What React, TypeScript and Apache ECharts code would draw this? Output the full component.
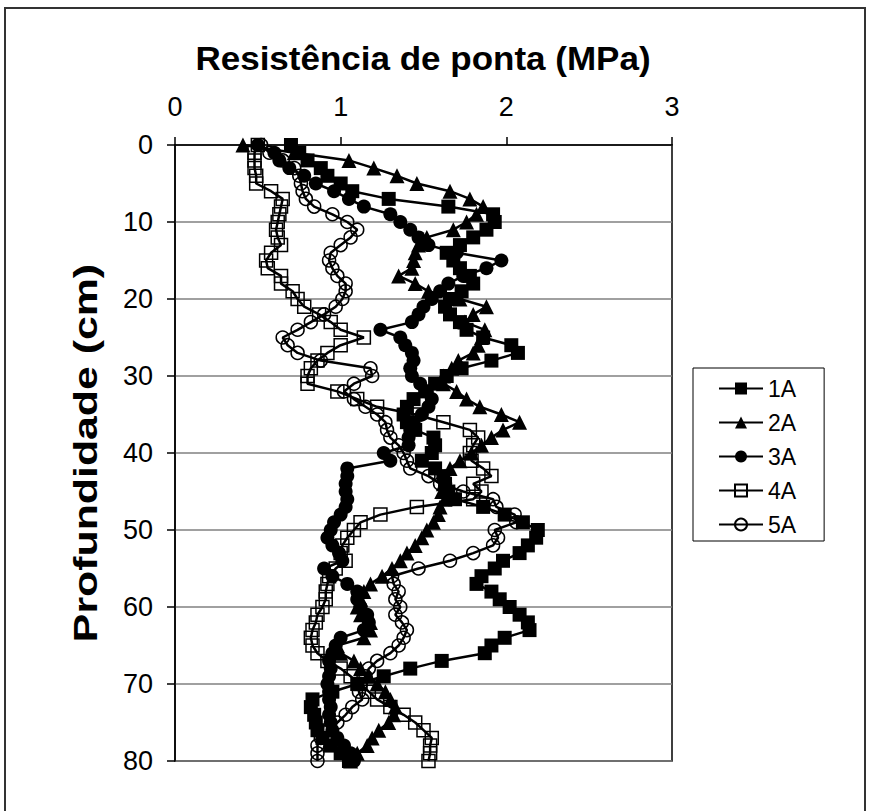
import React, { useEffect, useRef } from "react";
import * as echarts from "echarts";

const depths = [
  0, 1, 2, 3, 4, 5, 6, 7, 8, 9, 10, 11, 12, 13, 14, 15, 16, 17, 18, 19, 20,
  21, 22, 23, 24, 25, 26, 27, 28, 29, 30, 31, 32, 33, 34, 35, 36, 37, 38, 39, 40,
  41, 42, 43, 44, 45, 46, 47, 48, 49, 50, 51, 52, 53, 54, 55, 56, 57, 58, 59, 60,
  61, 62, 63, 64, 65, 66, 67, 68, 69, 70, 71, 72, 73, 74, 75, 76, 77, 78, 79, 80,
];

const s1A = [
  0.70, 0.75, 0.80, 0.88, 0.92, 1.00, 1.07, 1.29, 1.65, 1.92, 1.93,
  1.88, 1.80, 1.72, 1.64, 1.68, 1.72, 1.78, 1.80, 1.73, 1.66,
  1.63, 1.66, 1.72, 1.76, 1.86, 2.03, 2.07, 1.91, 1.73, 1.64,
  1.57, 1.51, 1.44, 1.40, 1.38, 1.40, 1.45, 1.56, 1.57, 1.55,
  1.49, 1.57, 1.62, 1.63, 1.65, 1.69, 1.86, 1.99, 2.10, 2.19,
  2.18, 2.13, 2.08, 1.98, 1.93, 1.85, 1.82, 1.91, 1.96, 2.02,
  2.08, 2.13, 2.14, 1.99, 1.91, 1.87, 1.61, 1.42, 1.26, 1.10,
  0.95, 0.83, 0.82, 0.84, 0.85, 0.86, 0.89, 0.94, 1.00, 1.05,
];

const s2A = [
  0.41, 0.72, 1.05, 1.20, 1.34, 1.46, 1.66, 1.78, 1.86, 1.82, 1.76,
  1.68, 1.52, 1.47, 1.45, 1.44, 1.43, 1.35, 1.45, 1.53, 1.72,
  1.88, 1.80, 1.75, 1.87, 1.85, 1.83, 1.80, 1.71, 1.67, 1.62,
  1.62, 1.70, 1.76, 1.84, 1.97, 2.08, 1.98, 1.91, 1.85, 1.79,
  1.72, 1.66, 1.63, 1.62, 1.61, 1.63, 1.60, 1.59, 1.56, 1.52,
  1.49, 1.45, 1.40, 1.36, 1.31, 1.25, 1.18, 1.14, 1.12, 1.10,
  1.12, 1.18, 1.18, 1.14, 0.98, 1.00, 1.08, 1.12, 1.17, 1.22,
  1.27, 1.30, 1.33, 1.32, 1.29, 1.23, 1.19, 1.16, 1.10, 1.06,
];

const s3A = [
  0.50, 0.60, 0.63, 0.69, 0.78, 0.85, 0.96, 1.05, 1.14, 1.30, 1.36,
  1.42, 1.47, 1.53, 1.70, 1.97, 1.88, 1.74, 1.65, 1.60, 1.55,
  1.50, 1.47, 1.43, 1.24, 1.36, 1.39, 1.43, 1.44, 1.42, 1.43,
  1.48, 1.52, 1.55, 1.53, 1.49, 1.44, 1.42, 1.41, 1.41, 1.26,
  1.30, 1.04, 1.04, 1.03, 1.03, 1.04, 1.03, 1.00, 0.96, 0.94,
  0.92, 0.95, 0.99, 1.01, 0.90, 0.95, 1.04, 1.10, 1.10, 1.12,
  1.16, 1.17, 1.14, 1.00, 0.97, 0.95, 0.93, 0.94, 0.93, 0.92,
  0.93, 0.93, 0.94, 0.93, 0.94, 0.95, 0.98, 1.02, 1.06, 1.08,
];

const s4A = [
  0.50, 0.48, 0.48, 0.48, 0.49, 0.49, 0.58, 0.65, 0.64, 0.63, 0.62,
  0.61, 0.62, 0.64, 0.58, 0.55, 0.56, 0.64, 0.64, 0.71, 0.74,
  0.78, 0.87, 0.94, 1.00, 1.14, 1.00, 0.92, 0.86, 0.82, 0.80,
  0.80, 0.98, 1.10, 1.22, 1.45, 1.62, 1.78, 1.83, 1.80, 1.78,
  1.79, 1.86, 1.91, 1.80, 1.85, 1.80, 1.46, 1.24, 1.12, 1.08,
  1.04, 1.01, 1.00, 1.03, 0.97, 0.93, 0.92, 0.91, 0.91, 0.89,
  0.86, 0.85, 0.83, 0.82, 0.83, 0.86, 0.92, 1.00, 1.06, 1.12,
  1.17, 1.22, 1.30, 1.38, 1.45, 1.50, 1.55, 1.54, 1.54, 1.53,
];

const s5A = [
  0.52, 0.57, 0.65, 0.72, 0.75, 0.76, 0.77, 0.79, 0.84, 0.95, 1.04,
  1.10, 1.06, 1.00, 0.94, 0.93, 0.95, 0.98, 1.03, 1.03, 1.01,
  0.97, 0.90, 0.82, 0.74, 0.65, 0.68, 0.74, 0.88, 1.18, 1.19,
  1.08, 1.02, 1.08, 1.15, 1.22, 1.27, 1.28, 1.30, 1.35, 1.38,
  1.40, 1.42, 1.53, 1.60, 1.74, 1.92, 1.94, 2.05, 2.06, 1.93,
  1.95, 1.92, 1.80, 1.66, 1.47, 1.31, 1.32, 1.35, 1.33, 1.36,
  1.33, 1.37, 1.40, 1.38, 1.35, 1.30, 1.22, 1.17, 1.15, 1.12,
  1.11, 1.13, 1.07, 1.03, 0.98, 0.93, 0.88, 0.86, 0.86, 0.86,
];

const seriesNames = ["1A", "2A", "3A", "4A", "5A"];
const xTicks = [0, 1, 2, 3];
const yTicks = [0, 10, 20, 30, 40, 50, 60, 70, 80];

const FONT = '"Liberation Sans", Arial, Helvetica, sans-serif';

export default function App() {
  const ref = useRef<HTMLDivElement>(null);

  useEffect(() => {
    if (!ref.current) return;
    const chart = echarts.init(ref.current, undefined, { renderer: "svg" });

    const toPairs = (vals: number[]) => depths.map((d, i) => [vals[i], d]);
    const filled = { color: "#000", borderColor: "#000", borderWidth: 0 };
    const hollow = { color: "rgba(0,0,0,0)", borderColor: "#000", borderWidth: 1.5 };
    const defs = [
      { vals: s1A, symbol: "rect", size: 14, item: filled },
      { vals: s2A, symbol: "triangle", size: 15, item: filled },
      { vals: s3A, symbol: "circle", size: 14, item: filled },
      { vals: s4A, symbol: "rect", size: 13, item: hollow },
      { vals: s5A, symbol: "circle", size: 13, item: hollow },
    ];

    chart.setOption({
      animation: false,
      backgroundColor: "#fff",
      textStyle: { fontFamily: FONT },
      graphic: [
        {
          type: "rect",
          silent: true,
          shape: { x: 5, y: 8, width: 860, height: 840 },
          style: { fill: "none", stroke: "#333", lineWidth: 2 },
        },
        {
          type: "text",
          x: 423,
          y: 58,
          scaleX: 1.03,
          style: {
            text: "Resistência de ponta (MPa)",
            font: `bold 34px ${FONT}`,
            textAlign: "center",
            textVerticalAlign: "middle",
            align: "center",
            verticalAlign: "middle",
            fill: "#000",
          },
        },
        {
          type: "text",
          x: 85,
          y: 453,
          rotation: Math.PI / 2,
          scaleX: 1.26,
          style: {
            text: "Profundidade (cm)",
            font: `bold 34px ${FONT}`,
            textAlign: "center",
            textVerticalAlign: "middle",
            align: "center",
            verticalAlign: "middle",
            fill: "#000",
          },
        },
      ],
      grid: {
        left: 175,
        top: 145,
        width: 497,
        height: 616,
        show: true,
        borderColor: "#000",
        borderWidth: 1.5,
        backgroundColor: "rgba(0,0,0,0)",
      },
      xAxis: {
        type: "value",
        position: "top",
        min: xTicks[0],
        max: xTicks[xTicks.length - 1],
        interval: 1,
        axisLine: { show: true, lineStyle: { color: "#000", width: 1.5 } },
        axisTick: { show: true, inside: false, length: 8, lineStyle: { color: "#000", width: 1.5 } },
        axisLabel: { fontSize: 27, color: "#000", margin: 25, fontFamily: FONT },
        splitLine: { show: false },
      },
      yAxis: {
        type: "value",
        inverse: true,
        min: yTicks[0],
        max: yTicks[yTicks.length - 1],
        interval: 10,
        axisLine: { show: true, lineStyle: { color: "#000", width: 1.5 } },
        axisTick: { show: true, inside: false, length: 8, lineStyle: { color: "#000", width: 1.5 } },
        axisLabel: { fontSize: 27, color: "#000", margin: 22, fontFamily: FONT },
        splitLine: { show: true, lineStyle: { color: "#808080", width: 1.5 } },
      },
      legend: {
        orient: "vertical",
        left: 693,
        top: 368,
        itemWidth: 44,
        itemHeight: 15,
        itemGap: 11,
        padding: [9, 28, 5, 25],
        borderColor: "#000",
        borderWidth: 1,
        borderRadius: 0,
        backgroundColor: "#fff",
        textStyle: { fontSize: 23, color: "#000", fontFamily: FONT },
        data: seriesNames,
      },
      series: defs.map((d, i) => ({
        name: seriesNames[i],
        type: "line",
        data: toPairs(d.vals),
        symbol: d.symbol,
        symbolSize: d.size,
        showAllSymbol: true,
        lineStyle: { color: "#000", width: 2.5 },
        itemStyle: d.item,
        emphasis: { disabled: true },
      })),
    });

    return () => chart.dispose();
  }, []);

  return (
    <div
      ref={ref}
      style={{ position: "fixed", left: 0, top: 0, width: 870, height: 811 }}
    />
  );
}
